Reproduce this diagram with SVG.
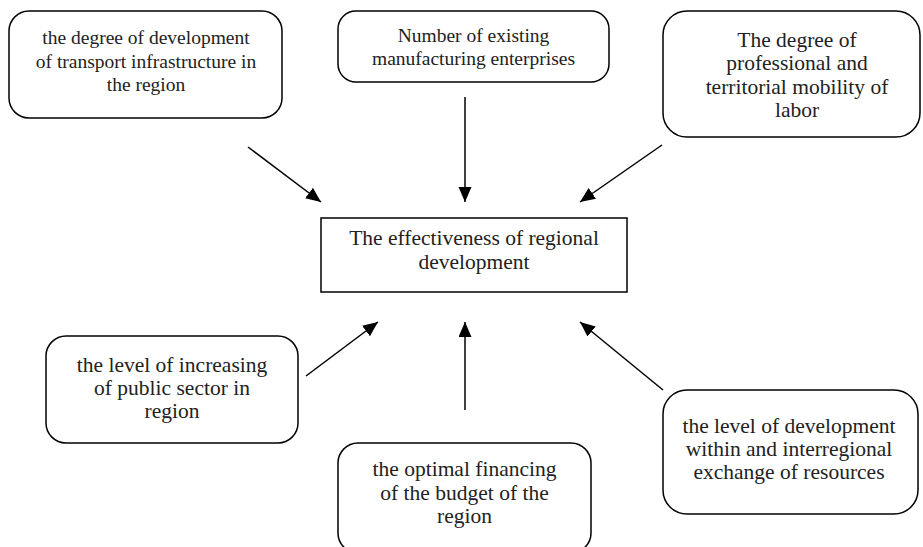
<svg xmlns="http://www.w3.org/2000/svg" width="923" height="547" viewBox="0 0 923 547">
<defs>
<style>
.box{fill:#fff;stroke:#000;stroke-width:1.5}
.t{font-family:"Liberation Serif","Times New Roman",serif;fill:#222;text-anchor:middle}
.s20{font-size:19.5px}
.s22{font-size:21.5px}
.c{stroke:#000;stroke-width:1.5;fill:none;marker-end:url(#ah)}
</style>
<marker id="ah" markerUnits="userSpaceOnUse" markerWidth="16" markerHeight="14" refX="15" refY="6.5" orient="auto">
<path d="M0,0 L15,6.5 L0,13 Z" fill="#000"/>
</marker>
</defs>
<rect width="923" height="547" fill="#fff"/>
<g id="connectors">
<line class="c" x1="248" y1="147" x2="321" y2="202"/>
<line class="c" x1="465" y1="97" x2="465" y2="202"/>
<line class="c" x1="662" y1="145" x2="580" y2="202"/>
<line class="c" x1="306" y1="376" x2="378" y2="322"/>
<line class="c" x1="465" y1="410" x2="465" y2="322"/>
<line class="c" x1="663" y1="390" x2="580" y2="322"/>
</g>
<g id="n1">
<rect class="box" x="9" y="11" width="273" height="107" rx="20"/>
<text class="t s20"><tspan x="146" y="44">the degree of development</tspan><tspan x="146" y="67.5">of transport infrastructure in</tspan><tspan x="146" y="91">the region</tspan></text>
</g>
<g id="n2">
<rect class="box" x="338" y="11" width="271" height="71" rx="18"/>
<text class="t s20"><tspan x="473.5" y="42">Number of existing</tspan><tspan x="473.5" y="65">manufacturing enterprises</tspan></text>
</g>
<g id="n3">
<rect class="box" x="663" y="11" width="257" height="126" rx="24"/>
<text class="t s22"><tspan x="797" y="46.5">The degree of</tspan><tspan x="797" y="70">professional and</tspan><tspan x="797" y="93.5">territorial mobility of</tspan><tspan x="797" y="117">labor</tspan></text>
</g>
<g id="n0">
<rect x="321" y="218" width="306" height="74" fill="#fff" stroke="#000" stroke-width="1.5"/>
<text class="t s22"><tspan x="474" y="245">The effectiveness of regional</tspan><tspan x="474" y="268.5">development</tspan></text>
</g>
<g id="n4">
<rect class="box" x="46" y="336" width="252" height="107" rx="20"/>
<text class="t s22"><tspan x="172" y="371.5">the level of increasing</tspan><tspan x="172" y="394.5">of public sector in</tspan><tspan x="172" y="417.5">region</tspan></text>
</g>
<g id="n5">
<rect class="box" x="338" y="443" width="253" height="110" rx="20"/>
<text class="t s22"><tspan x="464.5" y="476">the optimal financing</tspan><tspan x="464.5" y="500">of the budget of the</tspan><tspan x="464.5" y="523">region</tspan></text>
</g>
<g id="n6">
<rect class="box" x="663" y="390" width="255" height="124" rx="24"/>
<text class="t s22"><tspan x="789" y="433">the level of development</tspan><tspan x="789" y="456">within and interregional</tspan><tspan x="789" y="479">exchange of resources</tspan></text>
</g>
</svg>
